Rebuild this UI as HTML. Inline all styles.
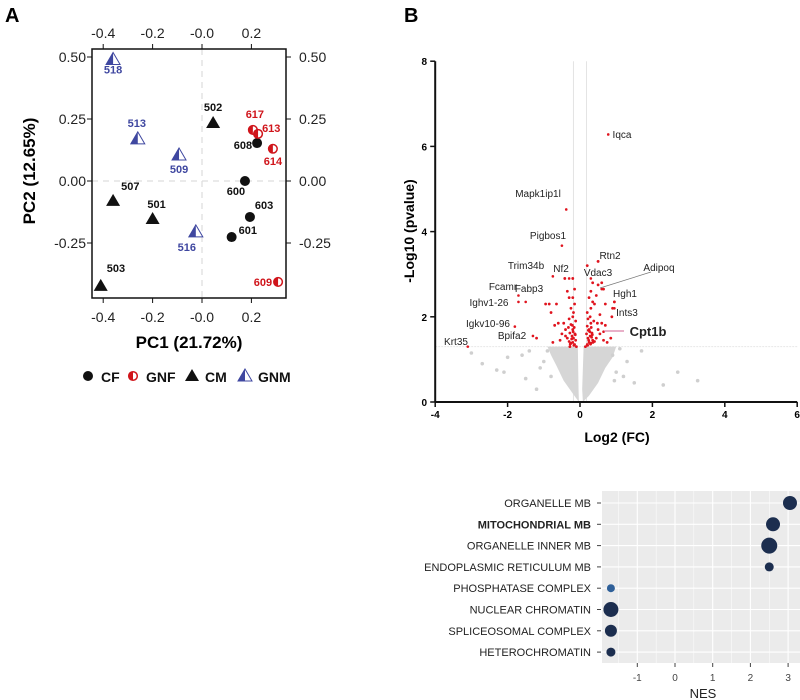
<!DOCTYPE html>
<html><head><meta charset="utf-8"><style>
body{margin:0;background:#fff;width:800px;height:700px;overflow:hidden;font-family:"Liberation Sans",Arial,sans-serif}
svg{position:absolute;left:0;top:0}
</style></head><body>
<svg id="fig" width="800" height="700" viewBox="0 0 800 700" font-family="Liberation Sans, Arial, sans-serif">
<text x="5" y="22" font-size="20" font-weight="bold">A</text>
<text x="404" y="22" font-size="20" font-weight="bold">B</text>
<g id="pca"></g>
<g id="volc"></g>
<g id="dots"></g>
</svg>
<script>
// ---------- PCA data ----------
const pcaIds    = ['518','513','509','516','502','507','501','503','608','600','603','601','617','613','614','609'];
const pcaGroup  = ['GNM','GNM','GNM','GNM','CM','CM','CM','CM','CF','CF','CF','CF','GNF','GNF','GNF','GNF'];
const pcaX      = [-0.36,-0.26,-0.093,-0.025,0.045,-0.36,-0.2,-0.41,0.223,0.174,0.194,0.12,0.206,0.227,0.287,0.308];
const pcaY      = [0.49,0.17,0.105,-0.205,0.234,-0.08,-0.153,-0.423,0.153,0.0,-0.145,-0.226,0.206,0.19,0.13,-0.407];
const pcaXTicks = [-0.4,-0.2,0.0,0.2];
const pcaXTickLabels = ['-0.4','-0.2','-0.0','0.2'];
const pcaYTicks = [0.5,0.25,0,-0.25];
const pcaYTickLabels = ['0.50','0.25','0.00','-0.25'];
// ---------- Volcano data ----------
const volcLabels = ['Iqca','Mapk1ip1l','Pigbos1','Rtn2','Trim34b','Nf2','Vdac3','Adipoq','Fcamr','Fabp3','Ighv1-26','Igkv10-96','Bpifa2','Krt35','Hgh1','Ints3','Cpt1b'];
const volcLabelFC = [0.78,-0.38,-0.5,0.5,-0.75,-0.3,0.3,0.6,-1.7,-1.5,-1.7,-1.8,-1.3,-3.1,0.95,0.95,0.65];
const volcLabelP  = [6.28,4.52,3.67,3.3,2.95,2.9,2.9,2.65,2.5,2.35,2.35,1.77,1.55,1.3,2.35,2.2,1.65];
const sigFC = [-0.15,-0.2,-0.25,-0.12,-0.18,-0.3,-0.22,-0.14,-0.28,-0.2,-0.35,-0.16,-0.25,-0.12,-0.3,-0.2,-0.4,-0.5,-0.6,-0.45,-0.7,-0.55,-0.75,-0.18,-0.25,-0.15,-0.3,-0.2,-0.15,-0.35,-0.2,-0.42,-0.8,-0.85,-0.95,-0.65,-0.1,-0.28,-0.32,-0.4,-1.2,-0.17,-0.23,-0.13,-0.27,-0.19,-0.21,
 0.2,0.25,0.3,0.35,0.22,0.4,0.28,0.18,0.33,0.25,0.45,0.2,0.3,0.38,0.22,0.28,0.5,0.55,0.6,0.48,0.7,0.65,0.75,0.85,0.2,0.3,0.35,0.25,0.4,0.3,0.45,0.35,0.5,0.6,0.65,0.2,0.5,0.9,0.95,0.88,0.55,0.7,0.15,0.24,0.32,0.27,0.36,0.21,0.29,0.34,0.23,0.31];
const sigP  = [1.35,1.4,1.38,1.45,1.5,1.42,1.55,1.6,1.62,1.7,1.5,1.75,1.82,1.9,1.95,2.0,1.7,1.6,1.85,1.85,1.8,1.45,1.4,2.1,2.2,2.3,2.45,2.45,2.65,2.6,2.9,2.9,2.1,2.3,2.3,2.3,1.3,1.3,1.75,1.55,1.5,1.33,1.48,1.58,1.36,1.65,1.8,
 1.35,1.4,1.38,1.45,1.5,1.42,1.55,1.6,1.62,1.7,1.5,1.78,1.85,1.9,1.95,2.0,1.7,1.6,1.85,1.85,1.8,1.45,1.4,1.5,2.1,2.2,2.35,2.45,2.3,2.6,2.5,2.8,2.75,2.8,2.65,3.2,3.3,2.2,2.35,2.0,2.05,2.3,1.3,1.45,1.52,1.65,1.4,1.33,1.36,1.58,1.68,1.75];
const nsFC = [-2.7,-2.3,-2.0,-1.6,-1.4,-2.1,-1.0,1.0,1.2,1.5,1.7,2.3,2.7,3.25,1.3,-1.2,-0.9,0.9,-1.1,-0.8,1.1,0.95,-3.0,-1.5];
const nsP  = [0.9,0.75,1.05,1.1,1.2,0.7,0.95,0.7,0.6,0.45,1.2,0.4,0.7,0.5,0.95,0.3,1.2,1.1,0.8,0.6,1.25,0.5,1.15,0.55];
const cloudLeftFC  = [-0.03,-0.2,-0.45,-0.65,-0.8,-0.9,-0.06,-0.04];
const cloudLeftP   = [0,0.2,0.5,0.85,1.1,1.3,1.3,0.3];
const cloudRightFC = [0.06,0.1,1.0,0.9,0.7,0.5,0.25,0.08];
const cloudRightP  = [0.3,1.3,1.3,1.05,0.8,0.45,0.15,0];
const volcXTicks = [-4,-2,0,2,4,6];
const volcYTicks = [0,2,4,6,8];
// ---------- GSEA dot data ----------
const gseaTerms = ['ORGANELLE MB','MITOCHONDRIAL MB','ORGANELLE INNER MB','ENDOPLASMIC RETICULUM MB','PHOSPHATASE COMPLEX','NUCLEAR CHROMATIN','SPLICEOSOMAL COMPLEX','HETEROCHROMATIN'];
const gseaNES   = [3.05,2.6,2.5,2.5,-1.7,-1.7,-1.7,-1.7];
const gseaSize  = [7,7,8,4.5,4,7.5,6,4.5];
const gseaColor = ['#1c2e4f','#1c2e4f','#1c2e4f','#1c2e4f','#2f6099','#1c2e4f','#1c2e4f','#1c2e4f'];
const gseaXTicks = [-1,0,1,2,3];

const NS='http://www.w3.org/2000/svg';
function mk(parent,tag,attrs,text){const e=document.createElementNS(NS,tag);for(const k in attrs)e.setAttribute(k,attrs[k]);if(text!==undefined)e.textContent=text;parent.appendChild(e);return e;}

// ===== PCA =====
(function(){
 const g=document.getElementById('pca');
 const X=v=>202+v*247, Y=v=>181-v*248;
 const L=92,R=286,T=49,B=298;
 let e;
 mk(g,'line',{x1:X(0),x2:X(0),y1:T,y2:B,stroke:'#ddd','stroke-dasharray':'6,5','stroke-width':1.2});
 mk(g,'line',{x1:L,x2:R,y1:Y(0),y2:Y(0),stroke:'#ddd','stroke-dasharray':'6,5','stroke-width':1.2});
 e=mk(g,'rect',{x:L,y:T,width:R-L,height:B-T,fill:'none',stroke:'#111','stroke-width':1.5});
 
 
 pcaXTicks.forEach((t,i)=>{
  mk(g,'line',{x1:X(t),x2:X(t),y1:B,y2:B+5,stroke:'#111'});
  mk(g,'line',{x1:X(t),x2:X(t),y1:T,y2:T-5,stroke:'#111'});
  e=mk(g,'text',{x:X(t),y:322,'font-size':14,'text-anchor':'middle',fill:'#222'},pcaXTickLabels[i]);
  
  
  e=mk(g,'text',{x:X(t),y:38,'font-size':14,'text-anchor':'middle',fill:'#222'},pcaXTickLabels[i]);
  
  
 });
 pcaYTicks.forEach((t,i)=>{
  mk(g,'line',{x1:L,x2:L-5,y1:Y(t),y2:Y(t),stroke:'#111'});
  mk(g,'line',{x1:R,x2:R+5,y1:Y(t),y2:Y(t),stroke:'#111'});
  e=mk(g,'text',{x:86,y:Y(t)+5,'font-size':14,'text-anchor':'end',fill:'#222'},pcaYTickLabels[i]);
  
  
  e=mk(g,'text',{x:299,y:Y(t)+5,'font-size':14,'text-anchor':'start',fill:'#222'},pcaYTickLabels[i]);
  
  
 });
 e=mk(g,'text',{x:189,y:348,'font-size':17,'font-weight':'bold','text-anchor':'middle'},'PC1 (21.72%)');
 
 
 e=mk(g,'text',{x:0,y:0,'font-size':17,'font-weight':'bold','text-anchor':'middle',transform:'translate(35,171) rotate(-90)'},'PC2 (12.65%)');
 
 
 const col={CF:'#111',CM:'#111',GNF:'#d0151b',GNM:'#3f47a0'};
 function marker(p,grp,x,y){
  if(grp==='CF'){mk(p,'circle',{cx:x,cy:y,r:5,fill:'#111'});}
  else if(grp==='GNF'){mk(p,'circle',{cx:x,cy:y,r:4.3,fill:'#fff',stroke:'#d0151b','stroke-width':1.5});mk(p,'path',{d:`M${x},${y-4.3} A4.3,4.3 0 0 0 ${x},${y+4.3} Z`,fill:'#d0151b'});}
  else if(grp==='CM'){mk(p,'path',{d:`M${x},${y-7} L${x+7},${y+5} L${x-7},${y+5} Z`,fill:'#111'});}
  else {mk(p,'path',{d:`M${x},${y-7} L${x+7},${y+5} L${x-7},${y+5} Z`,fill:'#fff',stroke:'#3f47a0','stroke-width':1});mk(p,'path',{d:`M${x},${y-7} L${x},${y+5} L${x-7},${y+5} Z`,fill:'#3f47a0'});}
 }
 const off={'518':[0,14,'middle'],'513':[-1,-12,'middle'],'509':[0,18,'middle'],'516':[-9,19,'middle'],'502':[0,-12,'middle'],'507':[8,-11,'start'],'501':[4,-11,'middle'],'503':[6,-14,'start'],'608':[-5,6,'end'],'600':[-9,14,'middle'],'603':[5,-8,'start'],'601':[7,-3,'start'],'617':[2,-12,'middle'],'613':[4,-2,'start'],'614':[0,16,'middle'],'609':[-6,4,'end']};
 pcaIds.forEach((id,i)=>{
  const x=X(pcaX[i]),y=Y(pcaY[i]);
  const p=mk(g,'g',{});
  
  
  marker(p,pcaGroup[i],x,y);
  const o=off[id];
  mk(p,'text',{x:x+o[0],y:y+o[1],'font-size':11,'font-weight':'bold','text-anchor':o[2],fill:col[pcaGroup[i]]},id);
 });
 const leg=[['CF',88,'CF'],['GNF',133,'GNF'],['CM',192,'CM'],['GNM',245,'GNM']];
 leg.forEach(l=>{
  const lg=mk(g,'g',{});
  
  
  marker(lg,l[0],l[1],376);
  mk(lg,'text',{x:l[1]+13,y:382,'font-size':14,'font-weight':'bold',fill:'#111'},l[2]);
 });
})();

// ===== Volcano =====
(function(){
 const g=document.getElementById('volc');
 const X=v=>580+v*36.2, Y=v=>402-v*42.6;
 let e;
 mk(g,'line',{x1:X(-0.18),x2:X(-0.18),y1:Y(8),y2:Y(0),stroke:'#e4e4e4','stroke-width':1});
 mk(g,'line',{x1:X(0.18),x2:X(0.18),y1:Y(8),y2:Y(0),stroke:'#e4e4e4','stroke-width':1});
 mk(g,'line',{x1:X(-4),x2:X(6),y1:Y(1.3),y2:Y(1.3),stroke:'#e8e8e8','stroke-width':1,'stroke-dasharray':'2,1'});
 const cl=mk(g,'path',{d:'M'+cloudLeftFC.map((v,i)=>X(v)+','+Y(cloudLeftP[i])).join(' L')+' Z',fill:'#d6d6d6'});
 
 
 const cr=mk(g,'path',{d:'M'+cloudRightFC.map((v,i)=>X(v)+','+Y(cloudRightP[i])).join(' L')+' Z',fill:'#d6d6d6'});
 
 
 nsFC.forEach((v,i)=>{e=mk(g,'circle',{cx:X(v),cy:Y(nsP[i]),r:1.8,fill:'#cfcfcf'});
  
  });
 sigFC.forEach((v,i)=>{e=mk(g,'circle',{cx:X(v),cy:Y(sigP[i]),r:1.4,fill:'#e0141e'});
  
  });
 volcLabelFC.forEach((v,i)=>{e=mk(g,'circle',{cx:X(v),cy:Y(volcLabelP[i]),r:1.3,fill:'#e0141e'});
  
  });
 mk(g,'line',{x1:X(-4),x2:X(-4),y1:Y(8),y2:Y(0),stroke:'#111','stroke-width':2});
 mk(g,'line',{x1:X(-4),x2:X(6),y1:Y(0),y2:Y(0),stroke:'#111','stroke-width':2});
 volcXTicks.forEach(t=>{mk(g,'line',{x1:X(t),x2:X(t),y1:Y(0),y2:Y(0)+5,stroke:'#111','stroke-width':1.5});
  e=mk(g,'text',{x:X(t),y:418,'font-size':10,'font-weight':'bold','text-anchor':'middle'},t);
  
  });
 volcYTicks.forEach(t=>{mk(g,'line',{x1:X(-4),x2:X(-4)-5,y1:Y(t),y2:Y(t),stroke:'#111','stroke-width':1.5});
  e=mk(g,'text',{x:427,y:Y(t)+4,'font-size':10,'font-weight':'bold','text-anchor':'end'},t);
  
  });
 e=mk(g,'text',{x:617,y:442,'font-size':14,'font-weight':'bold','text-anchor':'middle'},'Log2 (FC)');
 
 
 e=mk(g,'text',{x:0,y:0,'font-size':14,'font-weight':'bold','text-anchor':'middle',transform:'translate(414,231) rotate(-90)'},'-Log10 (pvalue)');
 
 
 const lp={'Iqca':[622,138],'Mapk1ip1l':[538,197],'Pigbos1':[548,239],'Rtn2':[610,259],'Trim34b':[526,269],'Nf2':[561,272],'Vdac3':[598,276],'Adipoq':[659,271],'Fcamr':[503,290],'Fabp3':[529,292],'Ighv1-26':[489,306],'Igkv10-96':[488,327],'Bpifa2':[512,339],'Krt35':[456,345],'Hgh1':[625,297],'Ints3':[627,316],'Cpt1b':[648,336]};
 mk(g,'line',{x1:651,y1:272,x2:600,y2:288,stroke:'#777','stroke-width':0.7});
 mk(g,'line',{x1:604,y1:331,x2:624,y2:331,stroke:'#d06090','stroke-width':1});
 volcLabels.forEach(n=>{
  const p=lp[n];const b=n==='Cpt1b';
  e=mk(g,'text',{x:p[0],y:p[1],'font-size':b?13:10,'font-weight':b?'bold':'normal','text-anchor':'middle',fill:'#222'},n);
  
  
 });
})();

// ===== GSEA dot plot =====
(function(){
 const g=document.getElementById('dots');
 const X=v=>675+v*37.7, Y=i=>503+i*21.3;
 const L=602,R=800,T=491,B=663;
 let e;
 e=mk(g,'rect',{x:L,y:T,width:R-L,height:B-T,fill:'#ebebeb'});
 
 
 for(let v=-1.5;v<=3.5;v+=0.5){const x=X(v);if(x<L||x>R)continue;
  mk(g,'line',{x1:x,x2:x,y1:T,y2:B,stroke:'#fff','stroke-width':Number.isInteger(v)?1.1:0.5});}
 gseaTerms.forEach((t,i)=>mk(g,'line',{x1:L,x2:R,y1:Y(i),y2:Y(i),stroke:'#fff','stroke-width':1.1}));
 gseaXTicks.forEach(t=>{mk(g,'line',{x1:X(t),x2:X(t),y1:B,y2:B+4,stroke:'#444'});
  e=mk(g,'text',{x:X(t),y:681,'font-size':10,'text-anchor':'middle',fill:'#444'},t);
  
  });
 e=mk(g,'text',{x:703,y:698,'font-size':13,'text-anchor':'middle',fill:'#222'},'NES');
 
 
 gseaTerms.forEach((t,i)=>{
  mk(g,'line',{x1:597,x2:601,y1:Y(i),y2:Y(i),stroke:'#444'});
  e=mk(g,'text',{x:591,y:Y(i)+4,'font-size':11,'text-anchor':'end',fill:'#222','font-weight':i===1?'bold':'normal'},t);
  
  
  e=mk(g,'circle',{cx:X(gseaNES[i]),cy:Y(i),r:gseaSize[i],fill:gseaColor[i]});
  
  
 });
})();
</script>
</body></html>
